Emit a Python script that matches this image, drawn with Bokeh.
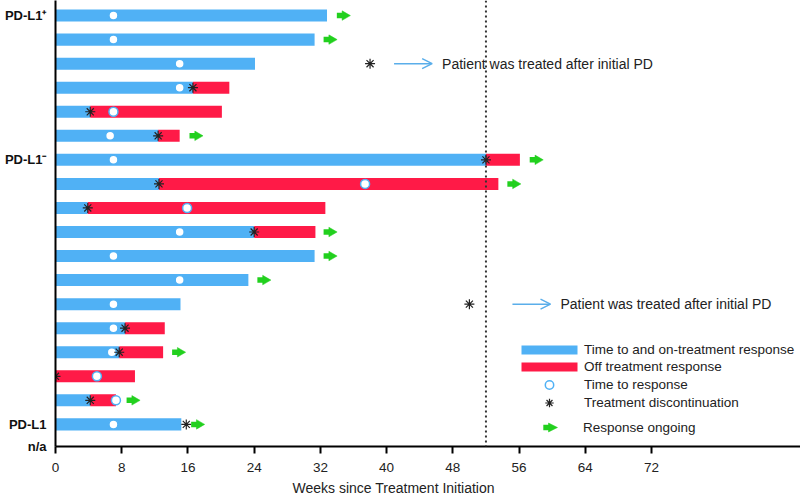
import math
from bokeh.plotting import figure
from bokeh.models import (Range1d, FixedTicker, ColumnDataSource, Legend, LegendItem,
                          Span, Arrow, OpenHead, NormalHead, Title)
from bokeh.embed import file_html
from bokeh.resources import INLINE
from bokeh.core.properties import value

# ---------------- data ----------------
rows = list(range(1, 19))
on_end = [32.8, 31.3, 24.1, 16.6, 4.2, 12.4, 52.0, 12.5, 3.9, 24.0, 31.3, 23.3, 15.1, 8.4, 7.7, 0.0, 4.2, 15.2]
off_end = [None, None, None, 21.0, 20.1, 15.0, 56.1, 53.5, 32.6, 31.4, None, None, None, 13.2, 13.0, 9.6, 7.3, None]
response = [7.0, 7.0, 15.0, 15.0, 7.0, 6.6, 7.0, 37.4, 15.9, 15.0, 7.0, 15.0, 7.0, 7.0, 6.8, 5.0, 7.3, 7.0]
discontinued = [None, None, 38.0, 16.6, 4.2, 12.4, 52.0, 12.5, 3.9, 24.0, None, None, 50.0, 8.4, 7.7, 0.0, 4.2, 15.8]
ongoing = [34.8, 33.2, None, None, None, 17.0, 58.1, 55.4, None, 33.2, 33.2, 25.2, None, None, 14.9, None, 9.4, 17.2]

note_rows = [3, 13]
note_arrow_start = [40.9, 55.2]
note_text = "Patient was treated after initial PD"

group_rows = [1, 7, 18]
group_labels = ["PD-L1\u207a", "PD-L1\u207b", "PD-L1"]
na_label = "n/a"

x_ticks = [0, 8, 16, 24, 32, 40, 48, 56, 64, 72]
landmark_week = 52

legend_labels = ["Time to and on-treatment response", "Off treatment response",
                 "Time to response", "Treatment discontinuation", "Response ongoing"]
x_title = "Weeks since Treatment Initiation"

# ---------------- style ----------------
BLUE = "#50B1F5"
RED = "#FF1A47"
GREEN = "#22D01E"
TXT = "#222222"
FONT = "Liberation Sans"

FRAME_LEFT = 55
FRAME_BOTTOM = 444

p = figure(width=800, height=499, x_range=Range1d(0, 90), y_range=Range1d(18.92, 0.373),
           output_backend="svg", toolbar_location=None,
           min_border_left=FRAME_LEFT, min_border_right=0, min_border_top=0, min_border_bottom=0)
p.outline_line_color = None
p.xgrid.visible = False
p.ygrid.visible = False
p.background_fill_color = "white"

# blue bars
blue_src = ColumnDataSource(dict(y=[r for r, e in zip(rows, on_end) if e > 0],
                                 right=[e for e in on_end if e > 0]))
r_blue = p.hbar(y="y", left=0, right="right", height=0.5, source=blue_src,
                fill_color=BLUE, line_color=None)

# red bars
red_src = ColumnDataSource(dict(y=[r for r, o in zip(rows, off_end) if o is not None],
                                left=[e for e, o in zip(on_end, off_end) if o is not None],
                                right=[o for o in off_end if o is not None]))
r_red = p.hbar(y="y", left="left", right="right", height=0.5, source=red_src,
               fill_color=RED, line_color=None)

# landmark line
p.add_layout(Span(location=landmark_week, dimension="height", line_color="#333333",
                  line_width=2, line_dash="2 3"))

# response circles
r_circ = p.scatter(x=response, y=rows, marker="circle", size=9, fill_color="white",
                   line_color=BLUE, line_width=1.5)

# discontinuation asterisks
d_src = ColumnDataSource(dict(x=[d for d in discontinued if d is not None],
                              y=[r for r, d in zip(rows, discontinued) if d is not None]))
r_ast = p.scatter(x="x", y="y", source=d_src, marker="asterisk", size=10,
                  line_color=TXT, line_width=1.2)

# response ongoing arrows
og_y = [r for r, o in zip(rows, ongoing) if o is not None]
og_x = [o for o in ongoing if o is not None]
body_src = ColumnDataSource(dict(x=[o - 0.45 for o in og_x], y=og_y))
head_src = ColumnDataSource(dict(x=[o + 0.16 for o in og_x], y=og_y))
r_body = p.scatter(x="x", y="y", source=body_src, marker="dash", size=6,
                   line_color=GREEN, line_width=5.5)
r_head = p.scatter(x="x", y="y", source=head_src, marker="triangle", size=9.5,
                   angle=-math.pi / 2, fill_color=GREEN, line_color=GREEN, line_width=0.5)

# notes
arr_src = ColumnDataSource(dict(x0=note_arrow_start, x1=[s + 4.6 for s in note_arrow_start],
                                y=note_rows))
p.add_layout(Arrow(x_start="x0", y_start="y", x_end="x1", y_end="y", source=arr_src,
                   line_color="#5AAEEA", line_width=1.5,
                   end=OpenHead(size=10, line_color="#5AAEEA", line_width=1.5)))
p.text(x=[s + 5.8 for s in note_arrow_start], y=note_rows, text=[note_text] * len(note_rows),
       text_font=value(FONT), text_font_size="14px", text_color=TXT,
       text_baseline="middle", text_align="left")

# axes
p.xaxis.ticker = FixedTicker(ticks=x_ticks)
p.xaxis.minor_tick_line_color = None
p.xaxis.major_tick_in = 0
p.xaxis.major_tick_out = 7
p.xaxis.major_tick_line_width = 2
p.xaxis.axis_line_width = 2
p.xaxis.axis_line_color = "black"
p.xaxis.major_tick_line_color = "black"
p.xaxis.major_label_text_font = FONT
p.xaxis.major_label_text_font_size = "13.5px"
p.xaxis.major_label_text_color = TXT
p.xaxis.major_label_standoff = 9

# x-axis title, placed below the axis and shifted left as in the original
p.add_layout(Title(text=x_title, align="left", offset=237, text_font=FONT,
                   text_font_size="14px", text_font_style="normal", text_color=TXT,
                   standoff=7), "below")

na_pos = group_rows[-1] + 0.9
p.yaxis.ticker = FixedTicker(ticks=group_rows + [na_pos])
overrides = {r: lab for r, lab in zip(group_rows, group_labels)}
overrides[na_pos] = na_label
p.yaxis.major_label_overrides = overrides
p.yaxis.major_tick_line_color = None
p.yaxis.minor_tick_line_color = None
p.yaxis.axis_line_width = 2
p.yaxis.axis_line_color = "black"
p.yaxis.major_label_text_font = FONT
p.yaxis.major_label_text_font_size = "13px"
p.yaxis.major_label_text_font_style = "bold"
p.yaxis.major_label_text_color = "#111111"
p.yaxis.major_label_standoff = 3

# legends (positions in screen pixels relative to frame bottom-left)
def add_legend(renderers, label, cx, cy, gw, gh, standoff):
    left = cx - gw / 2 - FRAME_LEFT
    bottom = FRAME_BOTTOM - cy - gh / 2
    lg = Legend(items=[LegendItem(label=label, renderers=renderers)], location=(left, bottom),
                glyph_width=gw, glyph_height=gh, label_height=gh, label_width=10,
                label_standoff=standoff, padding=0, margin=0, spacing=0,
                border_line_color=None, background_fill_alpha=0,
                label_text_font=FONT, label_text_font_size="13.5px", label_text_color=TXT)
    p.add_layout(lg, "center")

add_legend([r_blue], legend_labels[0], 549, 349, 70, 11, 0)
add_legend([r_red], legend_labels[1], 549, 366, 70, 11, 0)
add_legend([r_circ], legend_labels[2], 549, 382, 70, 21, 0)
add_legend([r_ast], legend_labels[3], 549, 400, 70, 21, 0)
# response ongoing key: dash body from the legend + arrow head annotation in screen units
add_legend([r_body], legend_labels[4], 546, 425, 16, 16, 29)
p.add_layout(Arrow(x_start=548 - FRAME_LEFT, x_end=557 - FRAME_LEFT,
                   y_start=FRAME_BOTTOM - 425, y_end=FRAME_BOTTOM - 425,
                   start_units="screen", end_units="screen", line_alpha=0,
                   end=NormalHead(size=9, fill_color=GREEN, line_color=GREEN, line_width=0.5)))

open("out.html", "w").write(file_html(p, INLINE))
